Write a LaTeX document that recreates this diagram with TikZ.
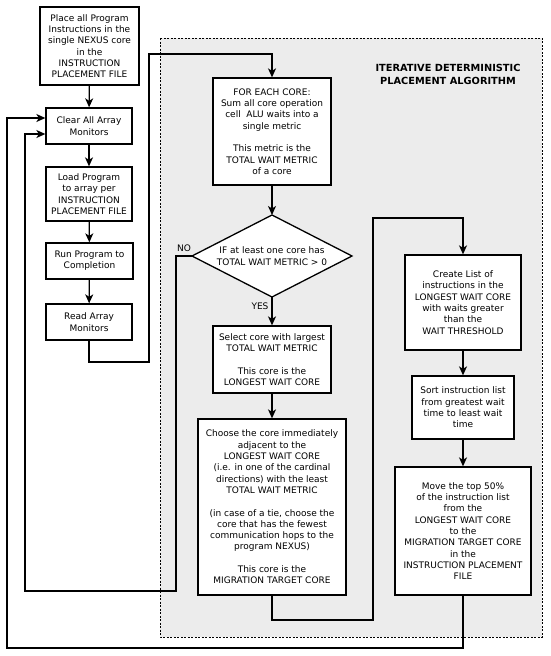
\documentclass[tikz,border=0pt]{standalone}
\usepackage{fontspec}
\setmainfont{DejaVu Sans}
\usetikzlibrary{arrows.meta}
\begin{document}
\begin{tikzpicture}[x=1pt,y=-1pt,
  txt/.style={font=\fontsize{9}{11.3}\selectfont},
  box/.style={draw,line width=1.3pt,fill=white,align=center,inner sep=0pt,txt},
  arr/.style={line width=1.3pt,-{Stealth[length=9pt,width=8pt,inset=2.5pt]}},
  ln/.style={line width=1.3pt},
  lbl/.style={txt,inner sep=0pt}]
\useasboundingbox (0,0) rectangle (550,656);
% region
\draw[fill=gray!15,line width=1pt,dash pattern=on 2pt off 1.5pt] (160,38) rectangle (542,637);
\node[font=\fontsize{9.8}{13}\selectfont\bfseries,align=center,inner sep=0pt] (title) at (448,74.5) {ITERATIVE DETERMINISTIC\\PLACEMENT ALGORITHM};
% left column
\node[box,minimum width=99pt,minimum height=78pt] (b1) at (89.5,46) {Place all Program\\Instructions in the\\single NEXUS core\\in the\\INSTRUCTION\\PLACEMENT FILE};
\node[box,minimum width=86pt,minimum height=36pt] (b2) at (89,126) {Clear All Array\\Monitors};
\node[box,minimum width=86pt,minimum height=54pt] (b3) at (89,194) {Load Program\\to array per\\INSTRUCTION\\PLACEMENT FILE};
\node[box,minimum width=87pt,minimum height=36pt] (b4) at (89.5,261) {Run Program to\\Completion};
\node[box,minimum width=86pt,minimum height=36pt] (b5) at (89,322) {Read Array\\Monitors};
% middle column
\node[box,minimum width=118pt,minimum height=107pt] (fe) at (272,131.5) {FOR EACH CORE:\\Sum all core operation\\cell\ \ ALU waits into a\\single metric\\[11.3pt]This metric is the\\TOTAL WAIT METRIC\\of a core};
% decision diamond
\coordinate (ifN) at (272,215);
\coordinate (ifE) at (352,256);
\coordinate (ifS) at (272,297);
\coordinate (ifW) at (192,256);
\draw[ln,fill=white] (ifN) -- (ifE) -- (ifS) -- (ifW) -- cycle;
\node[txt,align=center,inner sep=0pt] (if) at (272,256) {IF at least one core has\\TOTAL WAIT METRIC > 0};
\node[box,minimum width=118pt,minimum height=67pt] (sel) at (272,359.5) {Select core with largest\\TOTAL WAIT METRIC\\[11.3pt]This core is the\\LONGEST WAIT CORE};
\node[box,minimum width=148pt,minimum height=176pt] (cho) at (272,507) {Choose the core immediately\\adjacent to the\\LONGEST WAIT CORE\\(i.e. in one of the cardinal\\directions) with the least\\TOTAL WAIT METRIC\\[11.3pt](in case of a tie, choose the\\core that has the fewest\\communication hops to the\\program NEXUS)\\[11.3pt]This core is the\\MIGRATION TARGET CORE};
% right column
\node[box,minimum width=116pt,minimum height=95pt] (cre) at (463,302.5) {Create List of\\instructions in the\\LONGEST WAIT CORE\\with waits greater\\than the\\WAIT THRESHOLD};
\node[box,minimum width=102pt,minimum height=63pt] (sor) at (463,407.5) {Sort instruction list\\from greatest wait\\time to least wait\\time};
\node[box,minimum width=136pt,minimum height=128pt] (mov) at (463,531) {Move the top 50\%\\of the instruction list\\from the\\LONGEST WAIT CORE\\to the\\MIGRATION TARGET CORE\\in the\\INSTRUCTION PLACEMENT\\FILE};
% coordinates
\coordinate (p1) at (89,362);
\coordinate (p2) at (149,362);
\coordinate (p3) at (149,54);
\coordinate (q1) at (272,620);
\coordinate (q2) at (373,620);
\coordinate (q3) at (373,218);
\coordinate (r1) at (463,648);
\coordinate (r2) at (7,648);
\coordinate (r3) at (7,118);
\coordinate (s1) at (176,256);
\coordinate (s2) at (176,591);
\coordinate (s3) at (25,591);
\coordinate (s4) at (25,134);
% connectors
\draw[arr] (b1) -- (b2);
\draw[arr] (b2) -- (b3);
\draw[arr] (b3) -- (b4);
\draw[arr] (b4) -- (b5);
\draw[arr] (b5.south) -- (p1) -- (p2) -- (p3) -| (fe.north);
\draw[arr] (fe.south) -- (ifN);
\draw[arr] (ifS) -- (sel.north);
\draw[arr] (sel) -- (cho);
\draw[arr] (cho.south) -- (q1) -- (q2) -- (q3) -| (cre.north);
\draw[arr] (cre) -- (sor);
\draw[arr] (sor) -- (mov);
\draw[arr] (mov.south) -- (r1) -- (r2) -- (r3) -- (b2.west |- r3);
\draw[arr] (ifW) -- (s1) -- (s2) -- (s3) -- (s4) -- (b2.west |- s4);
\node[lbl] (no) at (184,248) {NO};
\node[lbl] (yes) at (260,306) {YES};
\end{tikzpicture}
\end{document}
